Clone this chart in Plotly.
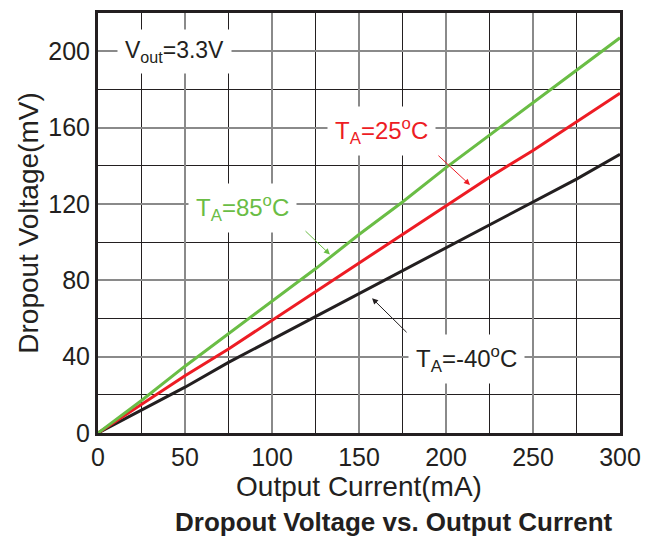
import plotly.graph_objects as go

current_ma = [0, 25, 50, 75, 100, 125, 150, 175, 200, 225, 250, 275, 300]
v_85c = [0, 17, 35, 52, 69, 86, 104, 121, 139, 156, 173, 190, 207]
v_25c = [0, 15, 30, 44, 59, 74, 89, 104, 119, 134, 148, 163, 178]
v_m40c = [0, 12, 24, 37, 49, 61, 73, 85, 97, 109, 121, 133, 146]

x_ticks = [0, 50, 100, 150, 200, 250, 300]
y_ticks = [0, 40, 80, 120, 160, 200]

FONT = "Liberation Sans"

fig = go.Figure()
fig.add_trace(go.Scatter(x=current_ma, y=v_m40c, mode="lines",
                         line=dict(color="#231f20", width=3), showlegend=False))
fig.add_trace(go.Scatter(x=current_ma, y=v_25c, mode="lines",
                         line=dict(color="#ed1c24", width=3), showlegend=False))
fig.add_trace(go.Scatter(x=current_ma, y=v_85c, mode="lines",
                         line=dict(color="#6abd45", width=3), showlegend=False))

# labels
fig.add_annotation(x=44, y=200, text="V<sub>out</sub>=3.3V", showarrow=False,
                   font=dict(size=23, color="#231f20", family=FONT), bgcolor="white", borderpad=7)
fig.add_annotation(x=83, y=118, text="T<sub>A</sub>=85<sup>o</sup>C", showarrow=False,
                   font=dict(size=24, color="#6abd45", family=FONT), bgcolor="white", borderpad=7)
fig.add_annotation(x=163, y=158, text="T<sub>A</sub>=25<sup>o</sup>C", showarrow=False,
                   font=dict(size=24, color="#ed1c24", family=FONT), bgcolor="white", borderpad=7)
fig.add_annotation(x=212, y=39, text="T<sub>A</sub>=-40<sup>o</sup>C", showarrow=False,
                   font=dict(size=24, color="#231f20", family=FONT), bgcolor="white", borderpad=7)

# arrows
fig.add_annotation(x=133.3, y=93.5, ax=118.4, ay=106.5, axref="x", ayref="y",
                   showarrow=True, arrowhead=2, arrowsize=1.2, arrowwidth=1,
                   arrowcolor="#6abd45", text="")
fig.add_annotation(x=213.8, y=129.9, ax=194.8, ay=146, axref="x", ayref="y",
                   showarrow=True, arrowhead=2, arrowsize=1.2, arrowwidth=1,
                   arrowcolor="#ed1c24", text="")
fig.add_annotation(x=157.5, y=70.6, ax=178.2, ay=52, axref="x", ayref="y",
                   showarrow=True, arrowhead=2, arrowsize=1.2, arrowwidth=1,
                   arrowcolor="#231f20", text="")

# bottom caption
fig.add_annotation(x=0.568, y=-0.212, xref="paper", yref="paper",
                   text="<b>Dropout Voltage vs. Output Current</b>", showarrow=False,
                   font=dict(size=26, color="#231f20", family=FONT),
                   xanchor="center", yanchor="middle")

fig.update_xaxes(range=[0, 300], tickvals=x_ticks, showgrid=True, gridcolor="#8a8a8a",
                 gridwidth=1.5, minor=dict(dtick=25, showgrid=True, gridcolor="#231f20", gridwidth=1.2),
                 showline=True, linecolor="#231f20", linewidth=3, mirror=True,
                 zeroline=False, ticks="", tickfont=dict(size=25, color="#231f20", family=FONT),
                 title=dict(text="Output Current(mA)", font=dict(size=28, color="#231f20", family=FONT),
                            standoff=2))
fig.update_yaxes(range=[0, 220], tickvals=y_ticks, showgrid=True, gridcolor="#8a8a8a",
                 gridwidth=1.5, minor=dict(dtick=20, showgrid=True, gridcolor="#231f20", gridwidth=1.2),
                 showline=True, linecolor="#231f20", linewidth=3, mirror=True,
                 zeroline=False, ticks="", tickfont=dict(size=25, color="#231f20", family=FONT),
                 title=dict(text="Dropout Voltage(mV)", font=dict(size=28, color="#231f20", family=FONT),
                            standoff=2))

fig.update_layout(width=654, height=537, margin=dict(l=98, r=34, t=10, b=104),
                  plot_bgcolor="white", paper_bgcolor="white")

fig.write_html("out.html")
